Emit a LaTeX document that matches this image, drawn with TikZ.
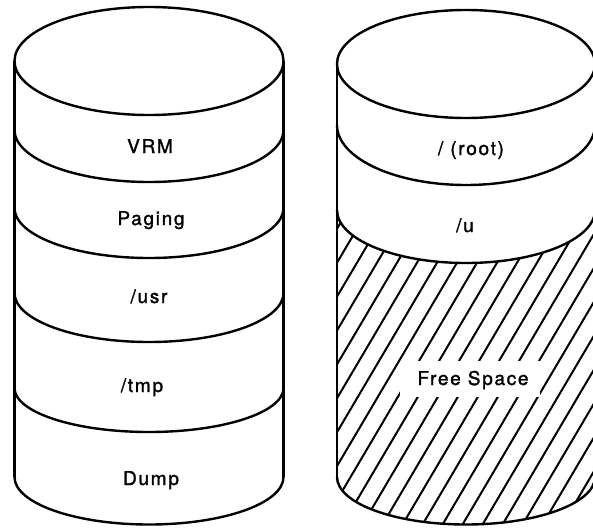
\documentclass[tikz,border=0pt]{standalone}
\usepackage{fontspec}
\setmainfont{TeX Gyre Heros}[LetterSpace=9,FakeBold=1.6]
\begin{document}
\begin{tikzpicture}[x=1pt,y=-1pt,line width=2.4pt,line join=round,
  lbl/.style={font=\fontsize{19}{23}\selectfont,anchor=base,inner sep=0pt},
  hatchline/.style={line width=2pt}]
\useasboundingbox (0,0) rectangle (593,527);
\clip (0,0) rectangle (593,527);

% ---------- left cylinder ----------
\draw (149,61) ellipse [x radius=134.5, y radius=54];
\draw (14.5,61) -- (14.5,477);
\draw (283.5,61) -- (283.5,477);
\draw (14.5,130) arc[start angle=180,end angle=0,x radius=134.5,y radius=52];
\draw (14.5,208) arc[start angle=180,end angle=0,x radius=134.5,y radius=50];
\draw (14.5,293) arc[start angle=180,end angle=0,x radius=134.5,y radius=49];
\draw (14.5,388) arc[start angle=180,end angle=0,x radius=134.5,y radius=44];
\draw (14.5,477) arc[start angle=180,end angle=0,x radius=134.5,y radius=47.5];

\node[lbl] (vrm)    at (150,153) {VRM};
\node[lbl] (paging) at (151,225) {Paging};
\node[lbl] (usr)    at (149,303) {/usr};
\node[lbl] (tmp)    at (142,392) {/tmp};
\node[lbl] (dump)   at (151,485) {Dump};

% ---------- right cylinder ----------
\begin{scope}
  \clip (337,210) arc[start angle=180,end angle=0,x radius=129,y radius=53]
        -- (595,477) arc[start angle=0,end angle=180,x radius=129,y radius=47.5] -- cycle;
  \foreach \c in {452,472,...,912}
    \draw[hatchline] (\c-118,200) -- (\c-312.7,530);
\end{scope}
\draw (466,64) ellipse [x radius=129, y radius=54];
\draw (337,64) -- (337,477);
\draw (595,64) -- (595,477);
\draw (337,125) arc[start angle=180,end angle=0,x radius=129,y radius=60];
\draw (337,210) arc[start angle=180,end angle=0,x radius=129,y radius=53];
\draw (337,477) arc[start angle=180,end angle=0,x radius=129,y radius=47.5];

\node[fill=white,minimum width=140pt,minimum height=36pt,inner sep=0pt] (freebox) at (470,379) {};
\node[lbl] (root) at (471,155) {/ (root)};
\node[lbl] (u)    at (465,232) {/u};
\node[lbl] (free) at (473,385) {Free Space};
\end{tikzpicture}
\end{document}
